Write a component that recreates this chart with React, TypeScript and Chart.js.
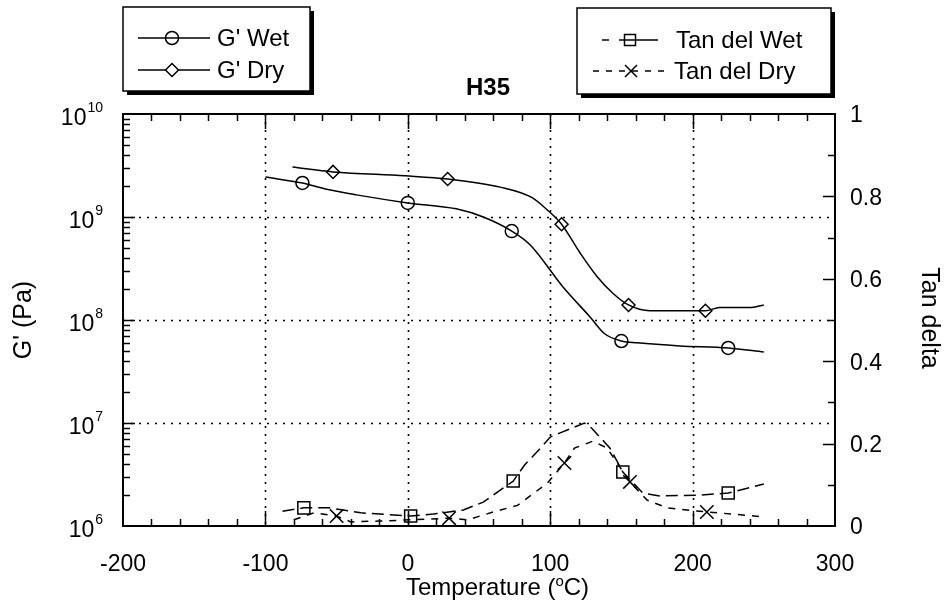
import React, { useEffect, useRef } from "react";
import { Chart, registerables } from "chart.js";

Chart.register(...registerables);

// ---------- data ----------
const gWetTemps = [-100, -74, -57, -36, 0, 34, 53, 73, 86, 109, 128, 138, 150, 161, 191, 225, 250];
const gWetValues = [2.44e9, 2.14e9, 1.86e9, 1.64e9, 1.37e9, 1.2e9, 1.0e9, 7.3e8, 5.35e8, 2.09e8, 1.07e8, 7.4e7, 6.25e7, 6.0e7, 5.6e7, 5.35e7, 4.9e7];
const gWetMarkTemps = [-74, 0, 73, 150, 225];
const gWetMarkValues = [2.14e9, 1.37e9, 7.3e8, 6.25e7, 5.35e7];

const gDryTemps = [-81, -52.5, -2, 28, 65, 87, 98, 108, 121, 133, 144, 155, 170, 209, 219, 240, 250];
const gDryValues = [3.05e9, 2.74e9, 2.51e9, 2.34e9, 1.95e9, 1.55e9, 1.17e9, 8.5e8, 4.47e8, 2.63e8, 1.82e8, 1.4e8, 1.23e8, 1.23e8, 1.32e8, 1.32e8, 1.4e8];
const gDryMarkTemps = [-52.5, 28, 108, 155, 209];
const gDryMarkValues = [2.74e9, 2.34e9, 8.5e8, 1.4e8, 1.23e8];

const tanWetTemps = [-88, -73, -55, -33, 2, 18, 39, 53, 74, 82, 94, 100, 107, 124, 129, 142, 151, 165, 177, 205, 225, 250];
const tanWetValues = [0.036, 0.044, 0.044, 0.032, 0.024, 0.029, 0.039, 0.058, 0.109, 0.148, 0.192, 0.216, 0.226, 0.25, 0.238, 0.189, 0.131, 0.08, 0.073, 0.075, 0.08, 0.102];
const tanWetMarkTemps = [-73, 2, 74, 151, 225];
const tanWetMarkValues = [0.044, 0.024, 0.109, 0.131, 0.08];

const tanDryTemps = [-80, -66, -50, -40, -20, 2, 29, 42, 60, 77, 98, 110, 117, 130, 140, 147, 156, 168, 182, 210, 228, 251];
const tanDryValues = [0.015, 0.032, 0.024, 0.01, 0.012, 0.015, 0.019, 0.015, 0.034, 0.05, 0.104, 0.153, 0.189, 0.206, 0.189, 0.153, 0.107, 0.063, 0.044, 0.034, 0.029, 0.022];
const tanDryMarkTemps = [-50, 29, 110, 156, 210];
const tanDryMarkValues = [0.024, 0.019, 0.153, 0.107, 0.034];

const xTickLabels = [-200, -100, 0, 100, 200, 300];
const xGridValues = [-100, 0, 100, 200];
const leftExponents = [6, 7, 8, 9, 10];
const leftGridValues = [1e7, 1e8, 1e9];
const rightTickLabels = ["0", "0.2", "0.4", "0.6", "0.8", "1"];
const rightTickValues = [0, 0.2, 0.4, 0.6, 0.8, 1];

const FONT = '"Liberation Sans", Arial, Helvetica, sans-serif';

const pts = (xs: number[], ys: number[]) => xs.map((x, i) => ({ x, y: ys[i] }));

const framePlugin = {
  id: "framePlugin",
  beforeDatasetsDraw(chart: any) {
    const { ctx, chartArea: a, scales } = chart;
    const sx = scales.x, sy = scales.y;
    ctx.save();
    ctx.strokeStyle = "#000";
    ctx.lineWidth = 1.6;
    ctx.setLineDash([2, 6]);
    for (const v of xGridValues) {
      const px = Math.round(sx.getPixelForValue(v)) + 0.5;
      ctx.beginPath();
      ctx.moveTo(px, a.top);
      ctx.lineTo(px, a.bottom);
      ctx.stroke();
    }
    for (const v of leftGridValues) {
      const py = Math.round(sy.getPixelForValue(v)) + 0.5;
      ctx.beginPath();
      ctx.moveTo(a.left, py);
      ctx.lineTo(a.right, py);
      ctx.stroke();
    }
    ctx.restore();
  },
  afterDatasetsDraw(chart: any) {
    const { ctx, chartArea: a, scales } = chart;
    const sx = scales.x, sy = scales.y, sy2 = scales.y2;
    ctx.save();
    ctx.strokeStyle = "#000";
    ctx.fillStyle = "#000";
    ctx.setLineDash([]);
    // frame
    ctx.lineWidth = 2;
    ctx.strokeRect(a.left, a.top, a.right - a.left, a.bottom - a.top);
    // x ticks (every 20)
    ctx.lineWidth = 1.5;
    for (let v = -180; v <= 280; v += 20) {
      const px = Math.round(sx.getPixelForValue(v)) + 0.5;
      const major = v % 100 === 0;
      const len = major ? 15 : 7;
      ctx.beginPath();
      ctx.moveTo(px, a.bottom);
      ctx.lineTo(px, a.bottom - len);
      ctx.moveTo(px, a.top);
      ctx.lineTo(px, a.top + len);
      ctx.stroke();
    }
    // left log ticks
    for (let e = 6; e < 10; e++) {
      for (let m = 1; m <= 9; m++) {
        if (m === 1 && e === 6) continue;
        const v = m * Math.pow(10, e);
        const py = Math.round(sy.getPixelForValue(v)) + 0.5;
        const len = m === 1 ? 12 : 7;
        ctx.beginPath();
        ctx.moveTo(a.left, py);
        ctx.lineTo(a.left + len, py);
        ctx.stroke();
      }
    }
    // right ticks
    for (let k = 1; k < 10; k++) {
      const v = k / 10;
      const py = Math.round(sy2.getPixelForValue(v)) + 0.5;
      const len = k % 2 === 0 ? 12 : 7;
      ctx.beginPath();
      ctx.moveTo(a.right, py);
      ctx.lineTo(a.right - len, py);
      ctx.stroke();
    }
    // x tick labels
    ctx.font = `23px ${FONT}`;
    ctx.textAlign = "center";
    ctx.textBaseline = "middle";
    for (const v of xTickLabels) {
      ctx.fillText(String(v), sx.getPixelForValue(v), 565);
    }
    // left labels 10^e
    for (const e of leftExponents) {
      const py = sy.getPixelForValue(Math.pow(10, e));
      ctx.font = `14px ${FONT}`;
      const expStr = String(e);
      const ew = ctx.measureText(expStr).width;
      const right = 103;
      ctx.textAlign = "left";
      ctx.textBaseline = "alphabetic";
      ctx.fillText(expStr, right - ew, py - 2);
      ctx.font = `23px ${FONT}`;
      ctx.textAlign = "right";
      ctx.fillText("10", right - ew - 1, py + 11);
    }
    // right labels
    ctx.font = `23px ${FONT}`;
    ctx.textAlign = "left";
    ctx.textBaseline = "middle";
    rightTickValues.forEach((v, i) => {
      ctx.fillText(rightTickLabels[i], 850, sy2.getPixelForValue(v) + 2);
    });
    // axis titles
    ctx.font = `25px ${FONT}`;
    ctx.textAlign = "center";
    ctx.textBaseline = "middle";
    ctx.save();
    ctx.translate(24, 320);
    ctx.rotate(-Math.PI / 2);
    ctx.fillText("G' (Pa)", 0, 0);
    ctx.restore();
    ctx.save();
    ctx.translate(929, 318);
    ctx.rotate(Math.PI / 2);
    ctx.fillText("Tan delta", 0, 0);
    ctx.restore();
    // x title with superscript
    ctx.textAlign = "left";
    ctx.textBaseline = "alphabetic";
    ctx.font = `24px ${FONT}`;
    let tx = 406;
    const base = 595;
    const p1 = "Temperature (";
    ctx.fillText(p1, tx, base);
    tx += ctx.measureText(p1).width;
    ctx.font = `15px ${FONT}`;
    ctx.fillText("o", tx, base - 9);
    tx += ctx.measureText("o").width;
    ctx.font = `24px ${FONT}`;
    ctx.fillText("C)", tx, base);
    // chart title
    ctx.font = `bold 24px ${FONT}`;
    ctx.textAlign = "center";
    ctx.textBaseline = "middle";
    ctx.fillText("H35", 488, 88);

    // legends
    const box = (x1: number, y1: number, x2: number, y2: number) => {
      ctx.fillStyle = "#000";
      ctx.fillRect(x1 + 4, y1 + 4, x2 - x1, y2 - y1);
      ctx.fillStyle = "#fff";
      ctx.fillRect(x1, y1, x2 - x1, y2 - y1);
      ctx.lineWidth = 1.5;
      ctx.strokeStyle = "#000";
      ctx.strokeRect(x1, y1, x2 - x1, y2 - y1);
      ctx.fillStyle = "#000";
    };
    const line = (x1: number, x2: number, y: number, dash: number[]) => {
      ctx.save();
      ctx.setLineDash(dash);
      ctx.lineWidth = 1.5;
      ctx.beginPath();
      ctx.moveTo(x1, y);
      ctx.lineTo(x2, y);
      ctx.stroke();
      ctx.restore();
    };
    box(123, 7, 310, 91);
    line(138, 210, 38, []);
    ctx.beginPath();
    ctx.arc(172, 38, 6.5, 0, Math.PI * 2);
    ctx.fillStyle = "#fff";
    ctx.fill();
    ctx.stroke();
    line(165.5, 178.5, 38, []);
    line(138, 210, 70, []);
    ctx.beginPath();
    ctx.moveTo(165.5, 70);
    ctx.lineTo(172, 63.5);
    ctx.lineTo(178.5, 70);
    ctx.lineTo(172, 76.5);
    ctx.closePath();
    ctx.fillStyle = "#fff";
    ctx.fill();
    ctx.stroke();
    ctx.fillStyle = "#000";
    ctx.font = `24px ${FONT}`;
    ctx.textAlign = "left";
    ctx.textBaseline = "middle";
    ctx.fillText("G' Wet", 217, 39);
    ctx.fillText("G' Dry", 217, 71);

    box(577, 8, 831, 94);
    line(602, 609, 40, []);
    line(619, 658, 40, []);
    ctx.lineWidth = 1.5;
    ctx.strokeRect(624.5, 34.5, 11, 11);
    line(593, 667, 71, [6, 7]);
    ctx.beginPath();
    ctx.moveTo(625, 65);
    ctx.lineTo(637, 77);
    ctx.moveTo(637, 65);
    ctx.lineTo(625, 77);
    ctx.stroke();
    ctx.fillStyle = "#000";
    ctx.font = `24px ${FONT}`;
    ctx.textAlign = "left";
    ctx.textBaseline = "middle";
    ctx.fillText("Tan del Wet", 676, 41);
    ctx.fillText("Tan del Dry", 674, 72);
    ctx.restore();
  },
};

export default function App() {
  const ref = useRef<HTMLCanvasElement | null>(null);
  useEffect(() => {
    document.body.style.margin = "0";
    const canvas = ref.current;
    if (!canvas) return;
    const curve = (label: string, d: any[], axis: string, dash: number[], mono: boolean) => ({
      label,
      data: d,
      yAxisID: axis,
      showLine: true,
      borderColor: "#000",
      backgroundColor: "transparent",
      borderWidth: 1.5,
      borderDash: dash,
      pointRadius: 0,
      pointHoverRadius: 0,
      cubicInterpolationMode: mono ? "monotone" : "default",
      tension: mono ? 0.4 : 0,
      fill: false,
    });
    const marks = (label: string, d: any[], axis: string, style: string, r: number) => ({
      label,
      data: d,
      yAxisID: axis,
      showLine: false,
      borderColor: "#000",
      backgroundColor: "transparent",
      pointBorderWidth: 1.5,
      pointStyle: style,
      pointRadius: r,
      pointHoverRadius: r,
    });
    const chart = new Chart(canvas, {
      type: "scatter",
      data: {
        datasets: [
          curve("G' Wet", pts(gWetTemps, gWetValues), "y", [], true),
          marks("G' Wet markers", pts(gWetMarkTemps, gWetMarkValues), "y", "circle", 6.5),
          curve("G' Dry", pts(gDryTemps, gDryValues), "y", [], true),
          marks("G' Dry markers", pts(gDryMarkTemps, gDryMarkValues), "y", "rectRot", 6.5),
          curve("Tan del Wet", pts(tanWetTemps, tanWetValues), "y2", [12, 6], false),
          marks("Tan del Wet markers", pts(tanWetMarkTemps, tanWetMarkValues), "y2", "rect", 8.5),
          curve("Tan del Dry", pts(tanDryTemps, tanDryValues), "y2", [7, 7], false),
          marks("Tan del Dry markers", pts(tanDryMarkTemps, tanDryMarkValues), "y2", "crossRot", 9.5),
        ] as any,
      },
      options: {
        animation: false,
        responsive: false,
        events: [],
        layout: { padding: { left: 123, right: 109, top: 114, bottom: 84 } },
        plugins: { legend: { display: false }, title: { display: false }, tooltip: { enabled: false } },
        scales: {
          x: { type: "linear", min: -200, max: 300, display: false },
          y: { type: "logarithmic", min: 1e6, max: 1e10, display: false, position: "left" },
          y2: { type: "linear", min: 0, max: 1, display: false, position: "right" },
        },
      } as any,
      plugins: [framePlugin],
    });
    return () => chart.destroy();
  }, []);
  return (
    <div style={{ width: 944, height: 610, background: "#fff" }}>
      <canvas ref={ref} width={944} height={610} style={{ display: "block" }} />
    </div>
  );
}
